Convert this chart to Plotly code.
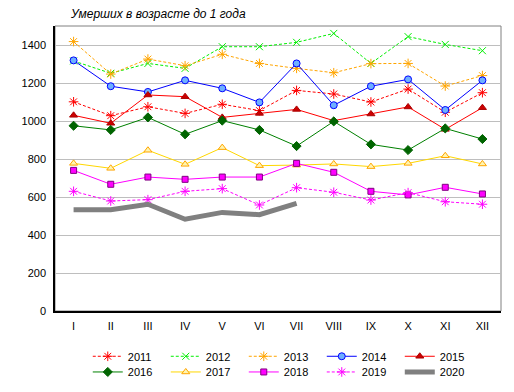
import plotly.graph_objects as go

months = ["I", "II", "III", "IV", "V", "VI", "VII", "VIII", "IX", "X", "XI", "XII"]

y2011 = [1101, 1028, 1075, 1040, 1088, 1055, 1161, 1142, 1100, 1168, 1046, 1149]
y2012 = [1316, 1251, 1303, 1277, 1391, 1391, 1414, 1461, 1303, 1444, 1403, 1370]
y2013 = [1418, 1247, 1326, 1291, 1351, 1303, 1277, 1254, 1302, 1303, 1184, 1239]
y2014 = [1319, 1183, 1153, 1214, 1172, 1098, 1303, 1083, 1183, 1219, 1058, 1214]
y2015 = [1030, 988, 1137, 1128, 1019, 1040, 1061, 1002, 1037, 1074, 956, 1070]
y2016 = [975, 953, 1019, 930, 1002, 953, 868, 998, 877, 847, 961, 905]
y2017 = [777, 751, 846, 772, 860, 765, 768, 774, 760, 777, 817, 774]
y2018 = [740, 667, 705, 693, 705, 705, 777, 730, 630, 611, 651, 616]
y2019 = [630, 579, 586, 630, 644, 558, 649, 625, 584, 623, 575, 562]
y2020 = [533, 533, 562, 483, 519, 507, 567]

years = ["2011", "2012", "2013", "2014", "2015", "2016", "2017", "2018", "2019", "2020"]
values = [y2011, y2012, y2013, y2014, y2015, y2016, y2017, y2018, y2019, y2020]

styles = [
    dict(line=dict(color="#FF0000", width=1, dash="3px,2px"),
         marker=dict(symbol="asterisk-open", size=8, line=dict(color="#FF0000", width=1))),
    dict(line=dict(color="#00EE00", width=1, dash="3px,2px"),
         marker=dict(symbol="x-thin-open", size=7, line=dict(color="#00DD00", width=1))),
    dict(line=dict(color="#FFA500", width=1, dash="3px,2px"),
         marker=dict(symbol="asterisk-open", size=8, line=dict(color="#FFA500", width=1))),
    dict(line=dict(color="#0000FF", width=1),
         marker=dict(symbol="circle", size=7, color="#6FB0FF", line=dict(color="#0000FF", width=1))),
    dict(line=dict(color="#FF0000", width=1),
         marker=dict(symbol="triangle-up", size=7, color="#CC0000", line=dict(color="#AA0000", width=1))),
    dict(line=dict(color="#008000", width=1),
         marker=dict(symbol="diamond", size=7, color="#006400", line=dict(color="#006400", width=1))),
    dict(line=dict(color="#FFD700", width=1),
         marker=dict(symbol="triangle-up", size=7, color="#FFF5B0", line=dict(color="#FFA500", width=1))),
    dict(line=dict(color="#FF00FF", width=1),
         marker=dict(symbol="square", size=6, color="#FF00FF", line=dict(color="#800080", width=1))),
    dict(line=dict(color="#FF00FF", width=1, dash="3px,2px"),
         marker=dict(symbol="asterisk-open", size=8, line=dict(color="#FF00FF", width=1))),
    dict(line=dict(color="#808080", width=5)),
]

fig = go.Figure()
for i, (name, vals, st) in enumerate(zip(years, values, styles)):
    mode = "lines" if name == "2020" else "lines+markers"
    fig.add_trace(go.Scatter(
        x=months[:len(vals)], y=vals, name=name, mode=mode,
        legend="legend" if i < 5 else "legend2",
        **st,
    ))

font = "Liberation Sans, Arial, sans-serif"
legend_common = dict(orientation="h", xanchor="left", yanchor="top",
                     entrywidth=33, entrywidthmode="pixels",
                     font=dict(family=font, size=11, color="#000000"),
                     tracegroupgap=0, itemwidth=30, bgcolor="rgba(0,0,0,0)")

fig.update_layout(
    width=506, height=384,
    margin=dict(l=47, r=13, t=18, b=81, autoexpand=False),
    paper_bgcolor="white", plot_bgcolor="white",
    font=dict(family=font, size=11, color="#000000"),
    showlegend=True,
    legend=dict(x=0.0735, y=-0.108, **legend_common),
    legend2=dict(x=0.0735, y=-0.163, **legend_common),
    xaxis=dict(type="category", categoryarray=months, range=[-0.5, 11.5],
               showgrid=False, showline=True, linecolor="#000000", linewidth=1.5,
               ticks="", ticklabelstandoff=4, zeroline=False,
               tickfont=dict(family=font, size=11, color="#000000")),
    yaxis=dict(range=[0, 1500], tickvals=[0, 200, 400, 600, 800, 1000, 1200, 1400],
               showgrid=True, gridcolor="#BEBEBE", gridwidth=1,
               showline=True, linecolor="#000000", linewidth=1.5,
               ticks="", ticklabelstandoff=5, zeroline=False,
               tickfont=dict(family=font, size=11, color="#000000")),
    shapes=[dict(type="rect", xref="paper", yref="paper", x0=0, x1=1, y0=0, y1=1,
                 line=dict(color="#808080", width=1), layer="below")],
    annotations=[dict(text="<i>Умерших в возрасте до 1 года</i>", xref="paper", yref="paper",
                      x=0.03, y=1.0, xanchor="left", yanchor="bottom", yshift=3,
                      showarrow=False, font=dict(family=font, size=12, color="#000000"))],
)

fig.write_html("out.html")
